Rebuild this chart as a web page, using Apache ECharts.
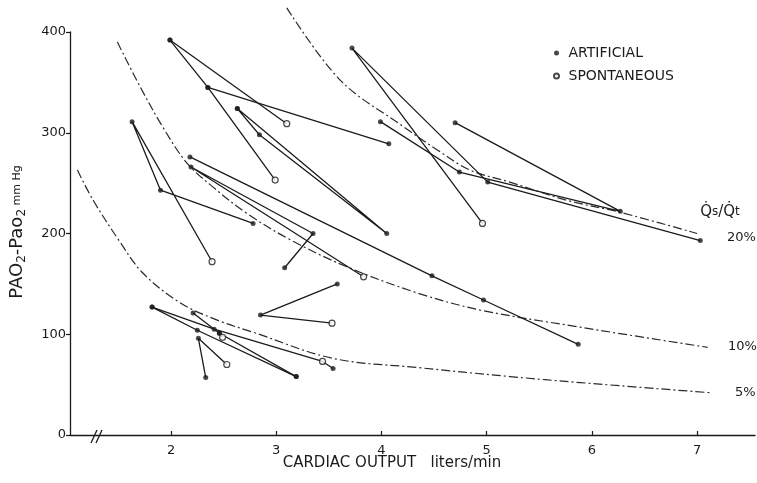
<!DOCTYPE html>
<html><head><meta charset="utf-8">
<script src="https://cdn.jsdelivr.net/npm/echarts@6/dist/echarts.min.js"></script>
<style>html,body{margin:0;padding:0;background:#fff}#c{width:757px;height:483px}</style>
</head><body><div id="c"></div>
<script>
// axis tick values
const xTicks = [2, 3, 4, 5, 6, 7];

// iso-shunt reference curves
const shunt20 = [[3.10,424],[3.61,352],[4.21,306],[4.53,283],[4.84,263],[5.22,251],[5.76,233],[6.27,221],[7.00,200]];
const shunt10 = [[1.49,390],[1.71,345],[1.92,306],[2.15,270],[2.40,246],[2.72,220],[3.13,194],[3.67,167],[4.34,141],[4.94,124],[5.89,107],[7.10,87]];
const shunt5  = [[1.11,263],[1.26,233],[1.50,194],[1.73,161],[2.09,131],[2.44,114],[2.78,102],[3.54,76],[4.34,67],[5.22,58],[5.89,52],[7.12,42]];
const curveNames = ['20%', '10%', '5%'];
const legendNames = ['ARTIFICIAL', 'SPONTANEOUS'];

// patient tracks: [cardiac output, A-a difference, 'A' artificial | 'S' spontaneous]
const track01 = [[1.99,392,'A'],[3.10,309,'S']];
const track02 = [[1.99,392,'A'],[2.35,345,'A'],[2.99,253,'S']];
const track03 = [[2.35,345,'A'],[4.07,289,'A']];
const track04 = [[2.63,324,'A'],[2.84,298,'A'],[4.05,200,'A'],[2.63,324,'A']];
const track05 = [[2.39,172,'S'],[1.63,311,'A'],[1.90,243,'A'],[2.78,210,'A']];
const track06 = [[2.18,276,'A'],[4.48,158,'A'],[4.97,134,'A'],[5.87,90,'A']];
const track07 = [[3.08,166,'A'],[3.35,200,'A'],[2.19,266,'A'],[3.83,157,'S']];
const track08 = [[3.58,150,'A'],[2.85,119,'A'],[3.53,111,'S']];
const track09 = [[4.96,210,'S'],[3.72,384,'A'],[5.01,251,'A'],[7.03,193,'A']];
const track10 = [[3.99,311,'A'],[4.74,261,'A'],[6.27,222,'A'],[4.70,310,'A']];
const track11 = [[1.82,127,'A'],[2.25,104,'A'],[3.19,58,'A']];
const track12 = [[1.82,127,'A'],[2.41,105,'A'],[3.44,73,'S'],[3.54,66,'A']];
const track13 = [[2.21,121,'A'],[2.46,101,'A'],[2.49,97,'S']];
const track14 = [[2.46,101,'A'],[3.19,58,'A']];
const track15 = [[2.33,57,'A'],[2.26,96,'A'],[2.53,70,'S']];

const tracks = [track01,track02,track03,track04,track05,track06,track07,track08,
                track09,track10,track11,track12,track13,track14,track15];

const INK = '#1b1b1b';
const FONT = 'DejaVu Sans';

const chart = echarts.init(document.getElementById('c'), null, {renderer: 'canvas'});

const lineSeries = tracks.map(t => ({
  type: 'line', data: t.map(p => [p[0], p[1]]), symbol: 'none', showSymbol: false,
  lineStyle: {color: INK, width: 1.3}, silent: true, animation: false, z: 3
}));
const curveSeries = [shunt20, shunt10, shunt5].map((c, i) => ({
  type: 'line', name: 'shunt ' + curveNames[i], data: c, smooth: 0.35, symbol: 'none', clip: false,
  lineStyle: {color: '#2a2a2a', width: 1.2, type: [9, 3, 2, 3]}, silent: true, animation: false, z: 2
}));
const artPts = [], sponPts = [];
tracks.forEach(t => t.forEach(p => { (p[2] === 'A' ? artPts : sponPts).push([p[0], p[1]]); }));

const series = [].concat(curveSeries, lineSeries, [
  {type: 'scatter', name: legendNames[0], data: artPts, symbol: 'circle', symbolSize: 5,
   itemStyle: {color: INK}, z: 5, animation: false, silent: true},
  {type: 'scatter', name: legendNames[1], data: sponPts, symbol: 'circle', symbolSize: 6,
   itemStyle: {color: '#fff', borderColor: INK, borderWidth: 1.2}, z: 6, animation: false, silent: true}
]);

chart.setOption({
  backgroundColor: '#fff',
  animation: false,
  grid: {left: 70, right: 2, top: 32, bottom: 48},
  legend: {
    data: legendNames, orient: 'vertical', left: 548, top: 41,
    itemWidth: 14, itemHeight: 5, itemGap: 9, selectedMode: false,
    textStyle: {fontFamily: FONT, fontSize: 14, color: INK, lineHeight: 14}
  },
  xAxis: {
    type: 'value', min: 1.04, max: 7.55,
    axisLine: {show: true, onZero: false, lineStyle: {color: INK, width: 1.3}},
    axisTick: {show: true, inside: true, length: 4, customValues: xTicks, lineStyle: {color: INK, width: 1.2}},
    axisLabel: {customValues: xTicks, margin: 9, fontFamily: FONT, fontSize: 13, color: INK},
    splitLine: {show: false}
  },
  yAxis: {
    type: 'value', min: 0, max: 400, interval: 100,
    axisLine: {show: true, lineStyle: {color: INK, width: 1.3}},
    axisTick: {show: true, length: 4, lineStyle: {color: INK, width: 1.2}},
    axisLabel: {margin: 4, fontFamily: FONT, fontSize: 13, color: INK},
    splitLine: {show: false}
  },
  graphic: [
    {type: 'text', x: 17, y: 232, rotation: Math.PI / 2, z: 10,
     style: {text: '{a|PAO}{s|2}{a|-Pao}{s|2}{m| mm Hg}', align: 'center', verticalAlign: 'middle',
       rich: {
         a: {fontSize: 18, fontFamily: FONT, fill: INK, lineHeight: 22},
         s: {fontSize: 12, fontFamily: FONT, fill: INK, verticalAlign: 'bottom'},
         m: {fontSize: 11, fontFamily: FONT, fill: INK}
       }}},
    {type: 'text', x: 392, y: 463, z: 10,
     style: {text: 'CARDIAC OUTPUT   liters/min', align: 'center', verticalAlign: 'middle',
       fontSize: 15, fontFamily: FONT, fill: INK}},
    {type: 'text', x: 720, y: 212, z: 10,
     style: {text: '{q|Q\u0307}{t|s}{q|/Q\u0307}{t|t}', align: 'center', verticalAlign: 'middle',
       rich: {
         q: {fontSize: 15, fontFamily: FONT, fill: INK},
         t: {fontSize: 12, fontFamily: FONT, fill: INK}
       }}},
    {type: 'text', x: 727, y: 238, z: 10, style: {text: curveNames[0], align: 'left', verticalAlign: 'middle', fontSize: 13, fontFamily: FONT, fill: INK}},
    {type: 'text', x: 728, y: 347, z: 10, style: {text: curveNames[1], align: 'left', verticalAlign: 'middle', fontSize: 13, fontFamily: FONT, fill: INK}},
    {type: 'text', x: 735, y: 393, z: 10, style: {text: curveNames[2], align: 'left', verticalAlign: 'middle', fontSize: 13, fontFamily: FONT, fill: INK}},
    {type: 'line', z: 10, shape: {x1: 91, y1: 443, x2: 97, y2: 430}, style: {stroke: INK, lineWidth: 1.3}},
    {type: 'line', z: 10, shape: {x1: 96, y1: 443, x2: 102, y2: 430}, style: {stroke: INK, lineWidth: 1.3}}
  ],
  series: series
});
</script>
</body></html>
